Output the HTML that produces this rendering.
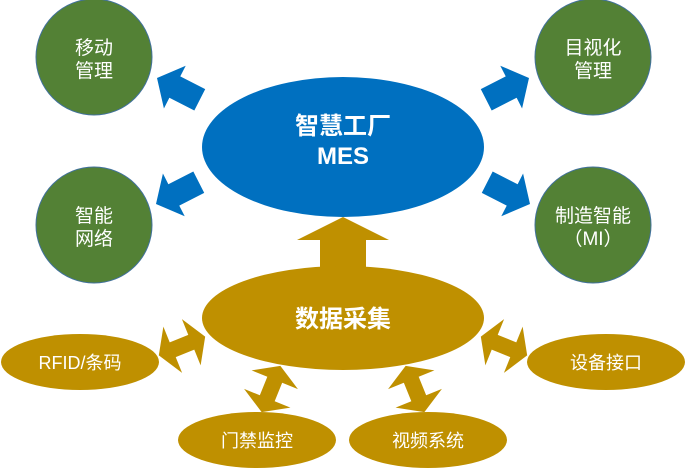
<!DOCTYPE html>
<html><head><meta charset="utf-8"><style>
html,body{margin:0;padding:0;background:#fff;}
svg{display:block;}
text{font-family:"Liberation Sans","Noto Sans CJK SC",sans-serif;fill:#fff;text-anchor:middle;}
</style></head><body>
<svg width="686" height="468" viewBox="0 0 686 468" xmlns="http://www.w3.org/2000/svg">
<defs>
<polygon id="sa" points="0,0 -20,-24 -20,-12 -48,-12 -48,12 -20,12 -20,24"/>
<polygon id="da" points="-25,0 -10,-25 -10,-8 10,-8 10,-25 25,0 10,25 10,8 -10,8 -10,25"/>
</defs>
<g fill="#538135" stroke="#41719C" stroke-width="1">
<circle cx="94" cy="57" r="58"/>
<circle cx="94" cy="225" r="58"/>
<circle cx="593" cy="57" r="58"/>
<circle cx="593" cy="225" r="58"/>
</g>
<g fill="#0070C0">
<ellipse cx="343" cy="147" rx="141" ry="70"/>
<use href="#sa" transform="translate(157,78) rotate(207)"/>
<use href="#sa" transform="translate(156,204) rotate(153)"/>
<use href="#sa" transform="translate(529,78) rotate(-27)"/>
<use href="#sa" transform="translate(530,204) rotate(27)"/>
</g>
<g fill="#BF9000">
<polygon points="343,217 297,240 320,240 320,268 366,268 366,240 389,240"/>
<ellipse cx="343" cy="318" rx="141" ry="52"/>
<ellipse cx="80" cy="362" rx="79" ry="28"/>
<ellipse cx="257" cy="440" rx="79" ry="28"/>
<ellipse cx="428" cy="440" rx="79" ry="28"/>
<ellipse cx="606" cy="362" rx="79" ry="28"/>
<use href="#da" transform="translate(182,346) rotate(-22)"/>
<use href="#da" transform="translate(271,389) rotate(-68)"/>
<use href="#da" transform="translate(415,389) rotate(68)"/>
<use href="#da" transform="translate(504,346) rotate(22)"/>
</g>
<g font-size="19">
<text x="94" y="54">移动</text><text x="94" y="77">管理</text>
<text x="94" y="222">智能</text><text x="94" y="245">网络</text>
<text x="593" y="54">目视化</text><text x="593" y="77">管理</text>
<text x="593" y="222">制造智能</text><text x="593" y="245">（MI）</text>
</g>
<g font-size="24" font-weight="bold">
<text x="343" y="134">智慧工厂</text>
<text x="343" y="164">MES</text>
<text x="343" y="327">数据采集</text>
</g>
<g font-size="18">
<text x="80" y="369">RFID/条码</text>
<text x="257" y="447">门禁监控</text>
<text x="428" y="447">视频系统</text>
<text x="606" y="369">设备接口</text>
</g>
</svg>
</body></html>
